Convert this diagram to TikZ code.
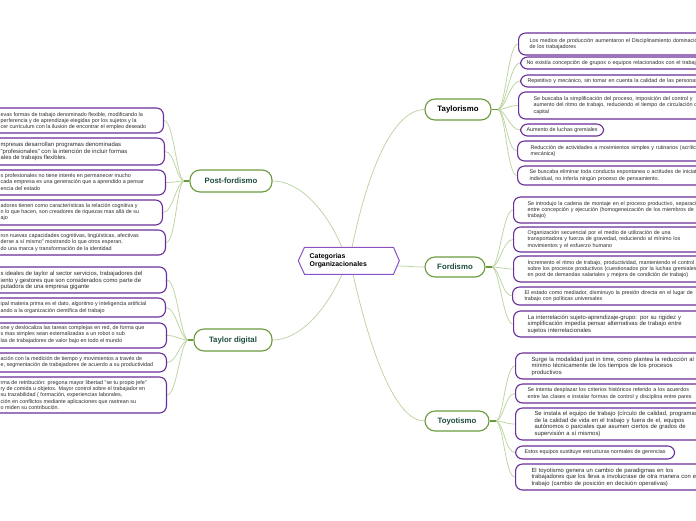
\documentclass[tikz,border=0pt]{standalone}
\usepackage{fontspec}
\setmainfont{Liberation Sans}
\usetikzlibrary{backgrounds,calc}
\definecolor{leafc}{HTML}{6A2E98}
\definecolor{catc}{HTML}{6A9A3C}
\definecolor{cattext}{HTML}{1F4D3C}
\definecolor{connc}{HTML}{BCD4A2}
\definecolor{hexc}{HTML}{8A52C2}
\definecolor{txtc}{HTML}{2B2B2B}
\newcommand\lfsmall{\fontsize{5.4}{6.4}\selectfont}
\newcommand\lfbig{\fontsize{5.9}{6.5}\selectfont}
\newcommand\catfont{\fontsize{7.8}{9}\selectfont\bfseries}
\begin{document}
\begin{tikzpicture}[x=1pt,y=-1pt,
  leaf/.style={draw=leafc, line width=1.1pt, rounded corners=7pt, fill=white, inner ysep=0pt, text=txtc},
  rleaf/.style={leaf, anchor=west, text width=300pt, align=left, font=\lfsmall},
  rbig/.style={rleaf, font=\lfbig},
  lbox/.style={leaf, anchor=east, minimum width=220pt},
  ltext/.style={anchor=west, align=left, inner sep=0pt, font=\lfsmall, text=txtc},
  lbig/.style={ltext, font=\lfbig},
  cat/.style={draw=catc, line width=1.1pt, rounded corners=10pt, fill=white, font=\catfont, text=cattext, inner sep=0pt},
  stub/.style={draw=catc, line width=1.1pt},
  conn/.style={draw=connc, line width=0.75pt},
  hexa/.style={draw=hexc, line width=1pt, fill=white}
]
\useasboundingbox (0,0) rectangle (696,520);

% ---------- centre hexagon ----------
\coordinate (h1) at (298.3,260.7);
\coordinate (h2) at (304.5,247.3);
\coordinate (h3) at (393.5,247.3);
\coordinate (h4) at (399.3,260.7);
\coordinate (h5) at (393.5,274.3);
\coordinate (h6) at (304.5,274.3);
\draw[hexa] (h1) -- (h2) -- (h3) -- (h4) -- (h5) -- (h6) -- cycle;
\node[anchor=west, align=left, inner sep=0pt, font=\fontsize{6.9}{8.3}\selectfont\bfseries, text=black] (cat) at (309.5,260.8) {Categorias\\Organizacionales};
\coordinate (cTa) at (352,247.3);
\coordinate (cPf) at (342,247.3);
\coordinate (cTd) at (342,274.3);
\coordinate (cTo) at (353,274.3);
\coordinate (cFo) at (397,266);

% ---------- category nodes ----------
\node[cat, minimum width=66pt, minimum height=21pt, text=black] (ty) at (458,109.5) {Taylorismo};
\node[cat, minimum width=82pt, minimum height=22pt] (pf) at (231,181) {Post-fordismo};
\node[cat, minimum width=60pt, minimum height=20pt] (fo) at (455,267) {Fordismo};
\node[cat, minimum width=78pt, minimum height=22pt] (td) at (233,340) {Taylor digital};
\node[cat, minimum width=64pt, minimum height=20pt] (tt) at (457,421) {Toyotismo};

\draw[stub] (ty.east) -- ++(6,0) coordinate (tyS);
\draw[stub] (fo.east) -- ++(6,0) coordinate (foS);
\draw[stub] (tt.east) -- ++(6,0) coordinate (ttS);
\draw[stub] (pf.west) -- ++(-5,0) coordinate (pfS);
\draw[stub] (td.west) -- ++(-5,0) coordinate (tdS);

% ---------- Taylorismo leaves ----------
\node[rleaf, inner xsep=11pt, minimum height=22pt] (t1) at (518,44) {Los medios de producción aumentaron el Disciplinamiento dominación\\de los trabajadores};
\node[rleaf, inner xsep=6pt, minimum height=12pt] (t2) at (520,63) {No existía concepción de grupos o equipos relacionados con el trabajo};
\node[rleaf, inner xsep=7pt, minimum height=12pt] (t3) at (520,81) {Repetitivo y mecánico, sin tomar en cuenta la calidad de las personas};
\node[rleaf, inner xsep=15pt, minimum height=27pt] (t4) at (518,105.5) {Se buscaba la simplificación del proceso, imposición del control y\\aumento del ritmo de trabajo, reduciendo el tiempo de circulación del\\capital};
\node[leaf, anchor=west, inner xsep=6pt, minimum height=12pt, font=\lfsmall] (t5) at (520,130) {Aumento de luchas gremiales};
\node[rleaf, inner xsep=13pt, minimum height=20pt] (t6) at (517,151) {Reducción de actividades a movimientos simples y rutinarios (acrítico,\\mecánica)};
\node[rleaf, inner xsep=12pt, minimum height=19pt] (t7) at (517,175.5) {Se buscaba eliminar toda conducta espontanea o actitudes de iniciativa\\individual, no infería ningún proceso de pensamiento.};

% ---------- Fordismo leaves ----------
\node[rleaf, inner xsep=14pt, minimum height=26pt] (f1) at (513,210) {Se introdujo la cadena de montaje en el proceso productivo, separación\\entre concepción y ejecución (homogeneización de los miembros de\\trabajo)};
\node[rleaf, inner xsep=14pt, minimum height=25pt] (f2) at (513,239.5) {Organización secuencial por el medio de utilización de una\\transportadora y fuerza de gravedad, reduciendo al mínimo los\\movimientos y el esfuerzo humano};
\node[rleaf, inner xsep=14pt, minimum height=26pt] (f3) at (513,269) {Incremento el ritmo de trabajo, productividad, manteniendo el control\\sobre los procesos productivos (cuestionados por la luchas gremiales\\en post de demandas salariales y mejora de condición de trabajo)};
\node[rleaf, inner xsep=12pt, minimum height=18pt] (f4) at (512,296) {El estado como mediador, disminuyo la presión directa en el lugar de\\trabajo con políticas universales};
\node[rbig, inner xsep=14pt, minimum height=26pt] (f5) at (513,324) {La interrelación sujeto-aprendizaje-grupo: por su rigidez y\\simplificación impedía pensar alternativas de trabajo entre\\sujetos interrelacionales};

% ---------- Toyotismo leaves ----------
\node[rbig, inner xsep=16pt, minimum height=26pt] (y1) at (515,366) {Surge la modalidad just in time, como plantea la reducción al\\mínimo técnicamente de los tiempos de los procesos\\productivos};
\node[rleaf, inner xsep=12pt, minimum height=19pt] (y2) at (515,393.5) {Se intenta desplazar los criterios históricos referido a los acuerdos\\entre las clases e instalar formas de control y disciplina entre pares};
\node[rbig, inner xsep=19pt, minimum height=32pt] (y3) at (515,424) {Se instala el equipo de trabajo (círculo de calidad, programas\\de la calidad de vida en el trabajo y fuera de el, equipos\\autónomos o parciales que asumen ciertos de grados de\\supervisión a sí mismos)};
\node[leaf, anchor=west, inner xsep=9pt, minimum height=13pt, font=\lfsmall] (y4) at (515,452.5) {Estos equipos sustituye estructuras normales de gerencias};
\node[rbig, inner xsep=16pt, minimum height=26pt] (y5) at (515,477) {El toyotismo genera un cambio de paradigmas en los\\trabajadores que los lleva a involucrase de otra manera con el\\trabajo (cambio de posición en decisión operativas)};

% ---------- Post-fordismo leaves ----------
\node[lbox, minimum height=25pt] (p1) at (164,120.5) {};
\node[ltext] (p1t) at (0.5,121) {evas formas de trabajo denominado flexible, modificando la\\perferencia y de aprendizaje elegidas por los sujetos y la\\cer curriculum con la ilusion de encontrar el empleo deseado};
\node[lbox, minimum height=27pt] (p2) at (165,151.5) {};
\node[lbig] (p2t) at (0.5,151.5) {mpresas desarrollan programas denominadas\\"profesionales" con la intención de incluir formas\\ales de trabajos flexibles.};
\node[lbox, minimum height=25pt] (p3) at (166,182.5) {};
\node[ltext] (p3t) at (0.5,182) {s profesionales no tiene interés en permanecer mucho\\cada empresa es una generación que a aprendido a pensar\\encia del estado};
\node[lbox, minimum height=25pt] (p4) at (163,212.5) {};
\node[ltext] (p4t) at (0.5,212) {adores tienen como características la relación cognitiva y\\n lo que hacen, son creadores de riquezas mas allá de su\\ajo};
\node[lbox, minimum height=25pt] (p5) at (166,242.5) {};
\node[ltext] (p5t) at (0.5,242.5) {ron nuevas capacidades cognitivas, lingüísticas, afectivas\\derse a sí mismo" mostrando lo que otros esperan,\\do una marca y transformación de la identidad};

% ---------- Taylor digital leaves ----------
\node[lbox, minimum height=26pt] (d1) at (167,280) {};
\node[lbig] (d1t) at (0.5,280.5) {s ideales de taylor al sector servicios, trabajadores del\\iento y gestores que son considerados como parte de\\putadora de una empresa gigante};
\node[lbox, minimum height=19pt] (d2) at (166,307.5) {};
\node[ltext] (d2t) at (0.5,307.5) {ipal materia prima es el dato, algoritmo y inteligencia artificial\\ando a la organización científica del trabajo};
\node[lbox, minimum height=25pt] (d3) at (167,335.5) {};
\node[ltext] (d3t) at (0.5,334.5) {one y deslocaliza las tareas complejas en red, de forma que\\s mas simples sean externalizadas a un robot o sub\\las de trabajadores de valor bajo en todo el mundo};
\node[lbox, minimum height=19pt] (d4) at (167,362.5) {};
\node[ltext] (d4t) at (0.5,362) {ación con la medición de tiempo y movimientos a través de\\e, segmentación de trabajadores de acuerdo a su productividad};
\node[lbox, minimum height=36pt] (d5) at (167,395) {};
\node[ltext] (d5t) at (0.5,395) {rma de retribución: pregona mayor libertad "se tu propio jefe"\\ry de comida u objetos. Mayor control sobre el trabajador en\\su trazabilidad ( formación, experiencias laborales,\\ción en conflictos mediante aplicaciones que rastrean su\\o miden su contribución.};

% ---------- connectors ----------
\begin{scope}[on background layer]
\fill[white] (0,0) rectangle (696,520);
\draw[conn] (cTa) .. controls (368,170) and (393,110) .. (ty.west);
\draw[conn] (cPf) .. controls (326,210) and (300,181) .. (pf.east);
\draw[conn] (cTd) .. controls (326,310) and (300,340) .. (td.east);
\draw[conn] (cTo) .. controls (370,350) and (395,421) .. (tt.west);
\draw[conn] (cFo) .. controls (410,266) and (412,267) .. (fo.west);
\foreach \c in {t1,t2,t3,t4,t5,t6,t7}
  \draw[conn] (tyS) .. controls +(8,0) and +(-10,0) .. (\c.west);
\foreach \c in {f1,f2,f3,f4,f5}
  \draw[conn] (foS) .. controls +(8,0) and +(-10,0) .. (\c.west);
\foreach \c in {y1,y2,y3,y4,y5}
  \draw[conn] (ttS) .. controls +(8,0) and +(-10,0) .. (\c.west);
\foreach \c in {p1,p2,p3,p4,p5}
  \draw[conn] (pfS) .. controls +(-8,0) and +(10,0) .. (\c.east);
\foreach \c in {d1,d2,d3,d4,d5}
  \draw[conn] (tdS) .. controls +(-8,0) and +(10,0) .. (\c.east);
\end{scope}
\end{tikzpicture}
\end{document}
